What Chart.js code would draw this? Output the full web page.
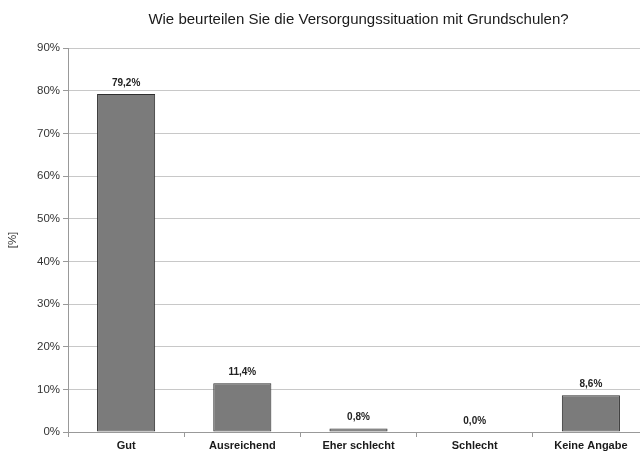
<!DOCTYPE html>
<html>
<head>
<meta charset="utf-8">
<script src="https://cdn.jsdelivr.net/npm/chart.js@4"></script>
<style>
  html, body { margin: 0; padding: 0; background: #fff; overflow: hidden; }
  canvas { display: block; }
</style>
</head>
<body>
<canvas id="myChart" width="649" height="453"></canvas>
<script>
const titel = 'Wie beurteilen Sie die Versorgungssituation mit Grundschulen?';
const kategorien = ['Gut', 'Ausreichend', 'Eher schlecht', 'Schlecht', 'Keine Angabe'];
const anteile = [79.2, 11.4, 0.8, 0.0, 8.6];
const yTicks = [0, 10, 20, 30, 40, 50, 60, 70, 80, 90];
const yTitel = '[%]';

function fmt(v){
  return v.toFixed(1).replace('.', ',') + '%';
}

// Werte ueber den Balken
const barLabels = {
  id: 'barLabels',
  afterDatasetsDraw(chart){
    const ctx = chart.ctx;
    const meta = chart.getDatasetMeta(0);
    ctx.save();
    ctx.font = 'bold 10px "Liberation Sans", Arial, sans-serif';
    ctx.fillStyle = '#222';
    ctx.textAlign = 'center';
    ctx.textBaseline = 'middle';
    meta.data.forEach((bar, i) => {
      ctx.fillText(fmt(anteile[i]), bar.x, bar.y - 11);
    });
    ctx.restore();
  }
};

function chartBar(){
  const ctx = document.getElementById('myChart');
  new Chart(ctx, {
    type: 'bar',
    data: {
      labels: kategorien,
      datasets: [{
        data: anteile,
        backgroundColor: '#7b7b7b',
        borderColor: '#2e2e2e',
        borderWidth: 1,
        borderSkipped: false,
        categoryPercentage: 0.5,
        barPercentage: 1.0
      }]
    },
    options: {
      responsive: false,
      animation: false,
      devicePixelRatio: 1,
      layout: { padding: { left: 0, right: 0, top: 0, bottom: 0 } },
      plugins: {
        legend: { display: false },
        tooltip: { enabled: false },
        title: {
          display: true,
          text: titel,
          fullSize: false,
          color: '#1a1a1a',
          font: { family: '"Liberation Sans", Arial, sans-serif', size: 15, weight: 'normal' },
          padding: { top: 11, bottom: 19 }
        }
      },
      scales: {
        x: {
          grid: {
            drawOnChartArea: false,
            drawTicks: true,
            tickLength: 5,
            color: '#999',
            offset: true
          },
          border: { color: '#999', width: 1 },
          ticks: {
            color: '#1a1a1a',
            padding: 2,
            font: { family: '"Liberation Sans", Arial, sans-serif', size: 11, weight: 'bold' }
          },
          afterFit(scale){ scale.height = 21; }
        },
        y: {
          min: 0,
          max: 90,
          afterBuildTicks(scale){ scale.ticks = yTicks.map(v => ({ value: v })); },
          grid: {
            color: '#c8c8c8',
            tickLength: 5,
            tickColor: '#999'
          },
          border: { color: '#999', width: 1 },
          ticks: {
            color: '#333',
            padding: 3,
            font: { family: '"Liberation Sans", Arial, sans-serif', size: 11.5 },
            callback: v => v + '%'
          },
          title: {
            display: true,
            text: yTitel,
            color: '#333',
            font: { family: '"Liberation Sans", Arial, sans-serif', size: 11.5 },
            padding: { top: 6, bottom: 0 }
          },
          afterFit(scale){ scale.width = 68; }
        }
      }
    },
    plugins: [barLabels]
  });
}

chartBar();
</script>
</body>
</html>
